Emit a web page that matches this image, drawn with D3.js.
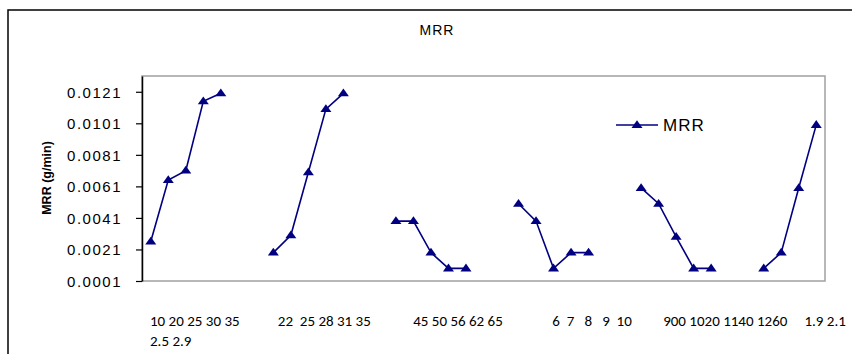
<!DOCTYPE html>
<html>
<head>
<meta charset="utf-8">
<title>MRR</title>
<style>
  body { margin: 0; background: #fff; }
  svg { display: block; font-family: Arial, "Liberation Sans", sans-serif; }
  .xlab { font-family: Calibri, Carlito, Lato, sans-serif; font-size: 15px; white-space: pre; }
</style>
<script src="https://cdn.jsdelivr.net/npm/d3@7"></script>
</head>
<body>
<div id="chart"></div>
<script>
// data: one series, null = empty cell (gap between groups)
var mrr = [0.0026, 0.0065, 0.0071, 0.0115, 0.0120, null, null,
           0.0019, 0.0030, 0.0070, 0.0110, 0.0120, null, null,
           0.0039, 0.0039, 0.0019, 0.0009, 0.0009, null, null,
           0.0050, 0.0039, 0.0009, 0.0019, 0.0019, null, null,
           0.0060, 0.0050, 0.0029, 0.0009, 0.0009, null, null,
           0.0009, 0.0019, 0.0060, 0.0100];
var yTicks = [0.0001, 0.0021, 0.0041, 0.0061, 0.0081, 0.0101, 0.0121];
var xLabelRow1 = ["10 20 25 30 35", "22  25 28 31 35", "45 50 56 62 65",
                  "6  7   8   9  10", "900 1020 1140 1260", "1.9 2.1"];
var xLabelRow2 = ["2.5 2.9"];
// where each label piece starts, in category steps (text box over the chart)
var labelAt = [0, 7.3, 15.03, 22.97, 29.3, 37.37];

var W = 852, H = 354;
var plot = { left: 142, right: 825, top: 76, bottom: 281 };

var svg = d3.select("#chart").append("svg")
    .attr("width", W).attr("height", H);

// outer chart border (runs off the right and bottom of the picture)
svg.append("rect")
    .attr("x", 8).attr("y", 10)
    .attr("width", W).attr("height", H)
    .attr("fill", "none").attr("stroke", "#000").attr("stroke-width", 1.5);

var x = d3.scaleBand()
    .domain(d3.range(mrr.length))
    .range([plot.left, plot.right]);
var y = d3.scaleLinear()
    .domain([0.0001, 0.0131])
    .range([plot.bottom, plot.top]);

function cx(i) { return x(i) + x.bandwidth() / 2; }

// plot area border
svg.append("rect")
    .attr("x", plot.left).attr("y", plot.top)
    .attr("width", plot.right - plot.left).attr("height", plot.bottom - plot.top)
    .attr("fill", "none").attr("stroke", "#a0a0a0").attr("stroke-width", 1.5);

// y axis
var yAxis = svg.append("g")
    .attr("transform", "translate(" + plot.left + ",0)")
    .call(d3.axisLeft(y).tickValues(yTicks).tickSize(6).tickSizeOuter(0)
        .tickFormat(d3.format(".4f")));
yAxis.select(".domain").attr("stroke", "#000").attr("stroke-width", 1.5);
yAxis.selectAll(".tick line").attr("stroke", "#000").attr("stroke-width", 1.2);
yAxis.selectAll(".tick text")
    .attr("x", -20)
    .attr("dy", "0.36em")
    .style("font-size", "15px")
    .style("letter-spacing", "1.5px")
    .style("font-family", "Arial, 'Liberation Sans', sans-serif")
    .attr("fill", "#000");

// y axis title
svg.append("text")
    .attr("transform", "translate(51,178) rotate(-90)")
    .attr("text-anchor", "middle")
    .style("font-size", "12.5px")
    .style("font-weight", "bold")
    .text("MRR (g/min)");

// title
svg.append("text")
    .attr("x", 437).attr("y", 35)
    .attr("text-anchor", "middle")
    .style("font-size", "14px")
    .style("letter-spacing", "1px")
    .text("MRR");

// line
var line = d3.line()
    .defined(function(d) { return d !== null; })
    .x(function(d, i) { return cx(i); })
    .y(function(d) { return y(d); });

svg.append("path")
    .datum(mrr)
    .attr("fill", "none")
    .attr("stroke", "#000080")
    .attr("stroke-width", 1.6)
    .attr("d", line);

var tri = "M0,-4.8L5.5,3L-5.5,3Z";
svg.selectAll(".pt")
    .data(mrr.map(function(d, i) { return { v: d, i: i }; })
        .filter(function(d) { return d.v !== null; }))
    .enter().append("path")
    .attr("class", "pt")
    .attr("d", tri)
    .attr("fill", "#000080")
    .attr("transform", function(d) { return "translate(" + cx(d.i) + "," + y(d.v) + ")"; });

// legend
var lg = svg.append("g").attr("transform", "translate(616,125)");
lg.append("line").attr("x1", 0).attr("x2", 42).attr("y1", 0).attr("y2", 0)
    .attr("stroke", "#000080").attr("stroke-width", 1.6);
lg.append("path").attr("d", tri).attr("fill", "#000080")
    .attr("transform", "translate(21,0)");
lg.append("text").attr("x", 47).attr("y", 6)
    .style("font-size", "17px")
    .style("letter-spacing", "1px")
    .text("MRR");

// category labels (text box under the plot)
var step = x.step();
svg.selectAll(".xlab1")
    .data(xLabelRow1)
    .enter().append("text")
    .attr("class", "xlab")
    .attr("x", function(d, i) { return x(0) + labelAt[i] * step + 8; })
    .attr("y", 326)
    .text(function(d) { return d; });
svg.selectAll(".xlab2")
    .data(xLabelRow2)
    .enter().append("text")
    .attr("class", "xlab")
    .attr("x", function(d, i) { return x(0) + labelAt[i] * step + 8; })
    .attr("y", 346)
    .text(function(d) { return d; });
</script>
</body>
</html>
